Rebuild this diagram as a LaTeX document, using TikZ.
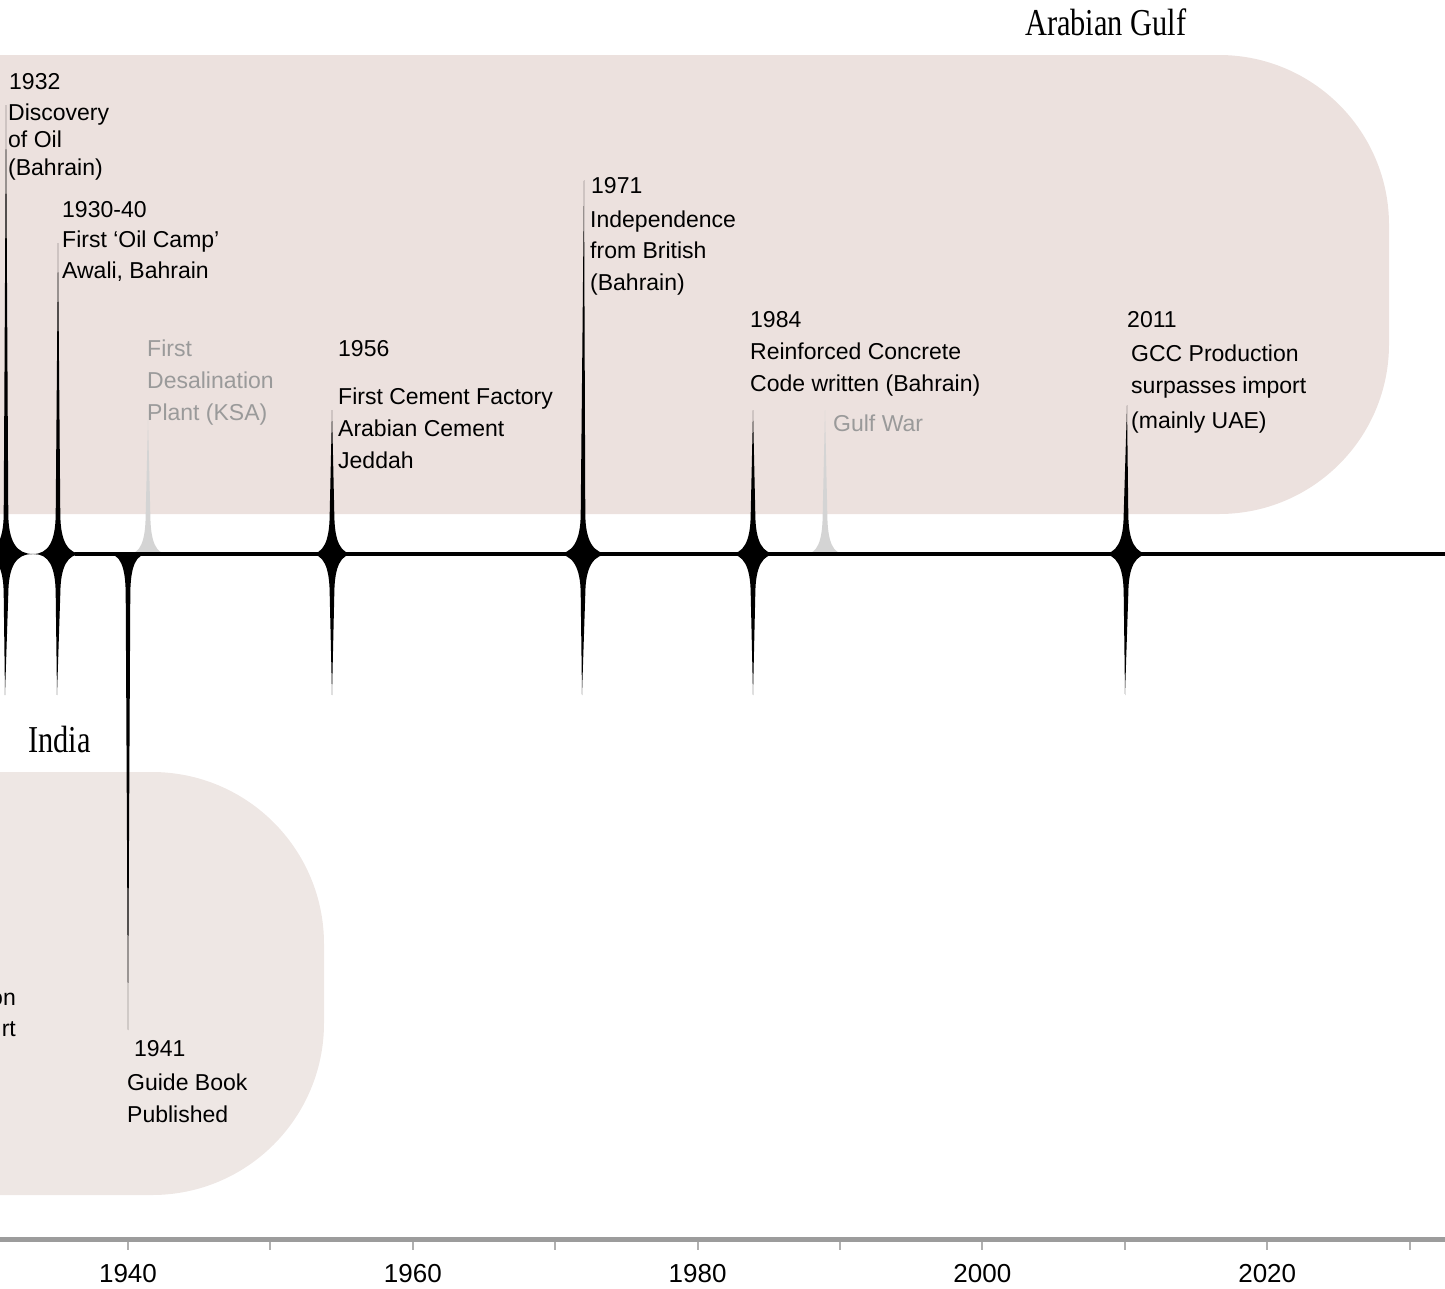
\documentclass[tikz,border=0pt]{standalone}
\usepackage{fontspec}
\setmainfont{Liberation Sans}
\newfontfamily\titlefont[FakeStretch=0.8]{Liberation Serif}
\usetikzlibrary{calc}

\definecolor{gulfpink}{HTML}{ECE1DE}
\definecolor{indiapink}{HTML}{EEE7E4}
\definecolor{fadegrey}{HTML}{D4D4D4}
\definecolor{notegrey}{HTML}{9A9A9A}
\definecolor{axisgrey}{HTML}{9C9C9C}

\newcommand{\flareup}[4]{%
  \fill[#4] ($(#1)+(-#3,0)$) .. controls +(0.6*#3,0) and +(-0.2,28) .. ($(#1)+(-2.3,-40)$)
    -- (#2) -- ($(#1)+(2.3,-40)$) .. controls +(0.2,28) and +(-0.6*#3,0) .. ($(#1)+(#3,0)$) -- cycle;}
\newcommand{\flaredown}[4]{%
  \fill[#4] ($(#1)+(-#3,0)$) .. controls +(0.6*#3,0) and +(-0.2,-28) .. ($(#1)+(-2.3,40)$)
    -- (#2) -- ($(#1)+(2.3,40)$) .. controls +(0.2,-28) and +(-0.6*#3,0) .. ($(#1)+(#3,0)$) -- cycle;}

\begin{document}
\begin{tikzpicture}[x=1pt,y=-1pt,
  lbl/.style={anchor=base west,inner sep=0pt,align=left,font=\fontsize{23}{#1}\selectfont},
  lbl/.default=32,
  faint/.style={lbl=#1,text=notegrey},
  faint/.default=32,
  region/.style={anchor=base west,inner sep=0pt,font=\titlefont\fontsize{38}{38}\selectfont},
  yearlbl/.style={anchor=base,inner sep=0pt,font=\fontsize{26}{26}\selectfont}]
\useasboundingbox (0,0) rectangle (1445,1288);

% regions
\fill[gulfpink,rounded corners=170pt] (-500,55) rectangle (1389,514);
\fill[indiapink,rounded corners=172pt] (-500,772) rectangle (324,1195);
\node[region] (gulf) at (1025,35) {Arabian Gulf};
\node[region] (india) at (28,752) {India};

% events on the line
\coordinate (b1932) at (6,554);    \coordinate (t1932) at (6,105);   \coordinate (u1932) at (5,695);
\coordinate (b1930) at (58,554);   \coordinate (t1930) at (58,243);  \coordinate (u1930) at (57,695);
\coordinate (bdesal) at (148,554); \coordinate (tdesal) at (148,420);
\coordinate (b1941) at (128,554);  \coordinate (u1941) at (128,1030);
\coordinate (b1956) at (332,554);  \coordinate (t1956) at (332,410); \coordinate (u1956) at (332,695);
\coordinate (b1971) at (583,554);  \coordinate (t1971) at (584,180); \coordinate (u1971) at (582,695);
\coordinate (b1984) at (753,554);  \coordinate (t1984) at (753,410); \coordinate (u1984) at (753,695);
\coordinate (bgulf) at (825,554);  \coordinate (tgulf) at (825,410);
\coordinate (b2011) at (1126,554); \coordinate (t2011) at (1127,405); \coordinate (u2011) at (1125,695);

\flareup{bdesal}{tdesal}{20}{fadegrey}
\flareup{bgulf}{tgulf}{20}{fadegrey}
\draw[line width=3.5pt] (75,554) -- (1450,554);
\flareup{b1932}{t1932}{27}{black}
\flareup{b1930}{t1930}{25}{black}
\flareup{b1956}{t1956}{22}{black}
\flareup{b1971}{t1971}{27}{black}
\flareup{b1984}{t1984}{24}{black}
\flareup{b2011}{t2011}{24}{black}
\flaredown{b1932}{u1932}{26}{black}
\flaredown{b1930}{u1930}{24}{black}
\flaredown{b1941}{u1941}{20}{black}
\flaredown{b1956}{u1956}{22}{black}
\flaredown{b1971}{u1971}{27}{black}
\flaredown{b1984}{u1984}{24}{black}
\flaredown{b2011}{u2011}{24}{black}

% labels (multi-line ones sit on their last baseline)
\node[lbl] (y1932) at (9,89) {1932};
\node[lbl=27.5] (d1932) at (8,175) {Discovery\\of Oil\\(Bahrain)};
\node[lbl] (y1930) at (62,217) {1930-40};
\node[lbl=31] (d1930) at (62,278) {First `Oil Camp'\\Awali, Bahrain};
\node[faint] (ddesal) at (147,420) {First\\Desalination\\Plant (KSA)};
\node[lbl] (y1956) at (338,356) {1956};
\node[lbl] (d1956) at (338,468) {First Cement Factory\\Arabian Cement\\Jeddah};
\node[lbl] (y1971) at (591,193) {1971};
\node[lbl=31.5] (d1971) at (590,290) {Independence\\from British\\(Bahrain)};
\node[lbl] (y1984) at (750,327) {1984};
\node[lbl] (d1984) at (750,391) {Reinforced Concrete\\Code written (Bahrain)};
\node[faint] (dgulf) at (833,431) {Gulf War};
\node[lbl] (y2011) at (1127,327) {2011};
\node[lbl] (d2011) at (1131,428) {GCC Production\\surpasses import\\[3pt](mainly UAE)};
\node[lbl=31,anchor=base east,align=right] (dindia) at (16,1036) {on\\rt};
\node[lbl] (y1941) at (134,1056) {1941};
\node[lbl] (d1941) at (127,1122) {Guide Book\\Published};

% axis
\draw[axisgrey,line width=5pt] (0,1239.5) -- (1445,1239.5);
\foreach \yr in {1940,1950,...,2030}
  \draw[axisgrey!80,line width=2pt] ({128+(\yr-1940)*14.24},1242) -- ++(0,8);
\foreach \yr in {1940,1960,...,2020}
  \node[yearlbl] (a\yr) at ({128+(\yr-1940)*14.24},1282) {\yr};
\end{tikzpicture}
\end{document}
